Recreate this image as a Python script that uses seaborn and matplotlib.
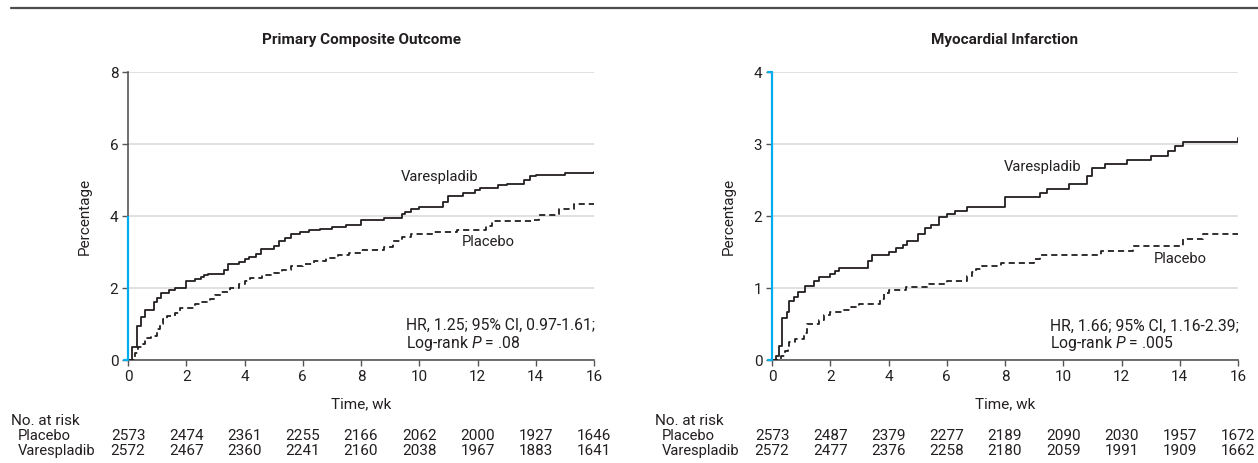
import numpy as np
import pandas as pd
import matplotlib
matplotlib.use("Agg")
import matplotlib.pyplot as plt
import matplotlib.transforms as mtrans
import seaborn as sns

# ---------------- data ----------------
weeks_ticks = [0, 2, 4, 6, 8, 10, 12, 14, 16]
groups = ["Placebo", "Varespladib"]

# Panel A: Primary Composite Outcome
t_var_a = [0, 0.15, 0.3, 0.45, 0.6, 0.9, 1.0, 1.15, 1.4, 1.6, 2.0, 2.3, 2.5, 2.6, 2.75, 3.3, 3.45, 3.8, 4.0, 4.15,
           4.4, 4.55, 5.0, 5.2, 5.4, 5.6, 5.9, 6.2, 6.6, 7.0, 7.5, 8.0, 8.8, 9.4, 9.5, 9.7, 10.0, 10.8, 11.0, 11.5,
           11.9, 12.1, 12.7, 13.0, 13.6, 13.8, 14.0, 15.0, 16.0]
p_var_a = [0, 0.35, 0.95, 1.2, 1.4, 1.6, 1.73, 1.85, 1.95, 2.0, 2.2, 2.25, 2.3, 2.35, 2.4, 2.5, 2.67, 2.72, 2.8, 2.85,
           2.95, 3.08, 3.18, 3.3, 3.38, 3.5, 3.55, 3.6, 3.65, 3.7, 3.75, 3.88, 3.94, 4.05, 4.1, 4.2, 4.25, 4.4, 4.55, 4.65,
           4.72, 4.78, 4.85, 4.9, 5.0, 5.1, 5.15, 5.2, 5.22]
t_pla_a = [0, 0.25, 0.35, 0.5, 0.6, 0.8, 1.0, 1.1, 1.2, 1.35, 1.6, 1.8, 2.3, 2.5, 2.8, 3.0, 3.2, 3.5, 3.8, 4.0,
           4.2, 4.6, 5.0, 5.3, 5.6, 6.0, 6.4, 6.8, 7.2, 7.6, 8.0, 8.8, 9.1, 9.4, 9.7, 10.5, 11.3, 12.3, 12.5, 13.9,
           14.1, 14.8, 15.3, 16.0]
p_pla_a = [0, 0.2, 0.35, 0.45, 0.6, 0.68, 0.85, 1.0, 1.15, 1.22, 1.3, 1.45, 1.55, 1.6, 1.7, 1.8, 1.9, 2.0, 2.1, 2.2,
           2.28, 2.35, 2.42, 2.5, 2.6, 2.68, 2.75, 2.82, 2.92, 2.98, 3.05, 3.15, 3.3, 3.42, 3.5, 3.56, 3.62, 3.72, 3.85, 3.9,
           4.02, 4.2, 4.33, 4.33]
risk_pla_a = [2573, 2474, 2361, 2255, 2166, 2062, 2000, 1927, 1646]
risk_var_a = [2572, 2467, 2360, 2241, 2160, 2038, 1967, 1883, 1641]

# Panel B: Myocardial Infarction
t_var_b = [0, 0.15, 0.25, 0.35, 0.5, 0.6, 0.75, 0.9, 1.15, 1.45, 1.6, 2.0, 2.15, 2.3, 3.3, 3.45, 4.0, 4.25, 4.5, 4.65,
           5.0, 5.25, 5.45, 5.75, 6.0, 6.3, 6.7, 8.0, 9.2, 9.45, 10.2, 10.8, 11.0, 11.45, 12.2, 13.0, 13.6, 13.85, 14.1, 16.0]
p_var_b = [0, 0.05, 0.2, 0.58, 0.66, 0.82, 0.87, 0.95, 1.03, 1.1, 1.15, 1.2, 1.24, 1.28, 1.37, 1.46, 1.5, 1.55, 1.6, 1.65,
           1.75, 1.84, 1.88, 1.98, 2.03, 2.07, 2.12, 2.27, 2.32, 2.38, 2.44, 2.56, 2.67, 2.72, 2.78, 2.84, 2.9, 2.97, 3.03, 3.08]
t_pla_b = [0, 0.3, 0.45, 0.55, 0.6, 0.8, 1.1, 1.2, 1.6, 1.8, 2.0, 2.4, 2.7, 3.0, 3.7, 3.85, 4.0, 4.6, 5.4, 6.0,
           6.7, 6.85, 7.0, 7.2, 7.85, 9.0, 9.2, 11.3, 12.4, 14.1, 14.8, 16.0]
p_pla_b = [0, 0.05, 0.12, 0.2, 0.25, 0.29, 0.38, 0.5, 0.55, 0.62, 0.67, 0.7, 0.73, 0.78, 0.85, 0.93, 0.97, 1.02, 1.06, 1.1,
           1.16, 1.22, 1.27, 1.3, 1.35, 1.4, 1.46, 1.52, 1.58, 1.68, 1.75, 1.75]
risk_pla_b = [2573, 2487, 2379, 2277, 2189, 2090, 2030, 1957, 1672]
risk_var_b = [2572, 2477, 2376, 2258, 2180, 2059, 1991, 1909, 1662]

titles = ["Primary Composite Outcome", "Myocardial Infarction"]
hr_lines = [["HR, 1.25; 95% CI, 0.97-1.61;", "Log-rank $P$ = .08"],
            ["HR, 1.66; 95% CI, 1.16-2.39;", "Log-rank $P$ = .005"]]
y_max = [8, 4]
y_ticks = [[0, 2, 4, 6, 8], [0, 1, 2, 3, 4]]

# ---------------- style ----------------
sns.set_theme(style="white")
FONT = ["Roboto", "DejaVu Sans"]
plt.rcParams["font.family"] = FONT
plt.rcParams["mathtext.fontset"] = "custom"
plt.rcParams["mathtext.rm"] = "Roboto"
plt.rcParams["mathtext.it"] = "Roboto:italic"
TXT = "#231f20"
BLUE = "#00aeef"
FS = 11
FS_HR = 11.3
FS_LAB = 10.6

fig = plt.figure(figsize=(12.58, 4.63), dpi=100)
W, H = 1258, 463

# top rule
fig.add_artist(plt.Line2D([11 / W, 1.0], [1 - 8 / H, 1 - 8 / H], color="#4d4d4d", lw=1.6))

panels = [
    dict(left=128, right=594, lab_x=11, t_var=t_var_a, p_var=p_var_a, t_pla=t_pla_a, p_pla=p_pla_a,
         risk_pla=risk_pla_a, risk_var=risk_var_a,
         var_lab=(9.35, 5.08), pla_lab=(11.45, 3.29), hr_pos=(9.55, 0.95, 0.46), blue_top=4),
    dict(left=772, right=1238, lab_x=655, t_var=t_var_b, p_var=p_var_b, t_pla=t_pla_b, p_pla=p_pla_b,
         risk_pla=risk_pla_b, risk_var=risk_var_b,
         var_lab=(7.97, 2.68), pla_lab=(13.1, 1.40), hr_pos=(9.56, 0.47, 0.23), blue_top=4),
]

top, bottom = 72, 360
for i, p in enumerate(panels):
    aw = p["right"] - p["left"]
    ah = bottom - top
    ax = fig.add_axes([p["left"] / W, 1 - bottom / H, aw / W, ah / H])
    df = pd.concat([
        pd.DataFrame({"Time": p["t_pla"], "Pct": p["p_pla"], "Group": "Placebo"}),
        pd.DataFrame({"Time": p["t_var"], "Pct": p["p_var"], "Group": "Varespladib"}),
    ])
    sns.lineplot(data=df, x="Time", y="Pct", hue="Group", style="Group", ax=ax,
                 palette={"Placebo": TXT, "Varespladib": TXT},
                 dashes={"Placebo": (3.4, 2.2), "Varespladib": ""},
                 drawstyle="steps-post", estimator=None, legend=False, lw=1.3, zorder=3)

    ym = y_max[i]
    ax.set_xlim(0, 16)
    ax.set_ylim(0, ym)
    ax.set_xticks(weeks_ticks)
    ax.set_yticks(y_ticks[i])
    ax.tick_params(axis="both", labelsize=FS, colors="#555555", labelcolor=TXT, length=4, width=1, direction="out",
                   bottom=True, left=True, pad=3)
    for s in ["top", "right"]:
        ax.spines[s].set_visible(False)
    for s in ["left", "bottom"]:
        ax.spines[s].set_color("#555555")
        ax.spines[s].set_linewidth(1.2)
    ax.yaxis.grid(True, color="#dcdcdc", lw=1.2)
    ax.set_axisbelow(True)

    ax.set_xlabel("Time, wk", fontsize=FS, color=TXT)
    ax.xaxis.set_label_coords(0.5, (bottom - 404) / ah)
    ax.xaxis.label.set_va("center")
    ax.set_ylabel("Percentage", fontsize=FS, color=TXT)
    ax.yaxis.set_label_coords(-43 / aw, 0.5)
    ax.yaxis.label.set_va("center")
    ax.set_title(titles[i], fontsize=FS, fontweight="bold", color=TXT, pad=0, y=(bottom - 40) / ah, va="center")

    # blue highlight of the y axis
    ax.plot([0, 0], [0, p["blue_top"]], color=BLUE, lw=1.6, clip_on=False, zorder=4, solid_capstyle="butt")
    ax.plot([-0.15, 0], [0, 0], color=BLUE, lw=1.6, clip_on=False, zorder=4)
    if i == 1:
        ax.plot([-0.15, 0], [4, 4], color=BLUE, lw=1.6, clip_on=False, zorder=4)

    # curve labels
    ax.text(p["var_lab"][0], p["var_lab"][1], "Varespladib", fontsize=FS_LAB, color=TXT, va="center", ha="left")
    ax.text(p["pla_lab"][0], p["pla_lab"][1], "Placebo", fontsize=FS_LAB, color=TXT, va="center", ha="left")
    hx, hy1, hy2 = p["hr_pos"]
    ax.text(hx, hy1, hr_lines[i][0], fontsize=FS_HR, color=TXT, va="center", ha="left")
    ax.text(hx, hy2, hr_lines[i][1], fontsize=FS_HR, color=TXT, va="center", ha="left")

    # risk table
    tr = mtrans.blended_transform_factory(ax.transData, fig.transFigure)
    lx = p["lab_x"] / W
    fig.text(lx, 1 - 421 / H, "No. at risk", fontsize=FS, color=TXT, va="center", ha="left")
    fig.text(lx + 7 / W, 1 - 436 / H, groups[0], fontsize=FS_LAB, color=TXT, va="center", ha="left")
    fig.text(lx + 7 / W, 1 - 451 / H, groups[1], fontsize=FS_LAB, color=TXT, va="center", ha="left")
    for wk, n1, n2 in zip(weeks_ticks, p["risk_pla"], p["risk_var"]):
        ax.text(wk, 1 - 436 / H, str(n1), transform=tr, fontsize=FS, color=TXT, va="center", ha="center",
                clip_on=False)
        ax.text(wk, 1 - 451 / H, str(n2), transform=tr, fontsize=FS, color=TXT, va="center", ha="center",
                clip_on=False)

fig.savefig("out.png", dpi=100)
